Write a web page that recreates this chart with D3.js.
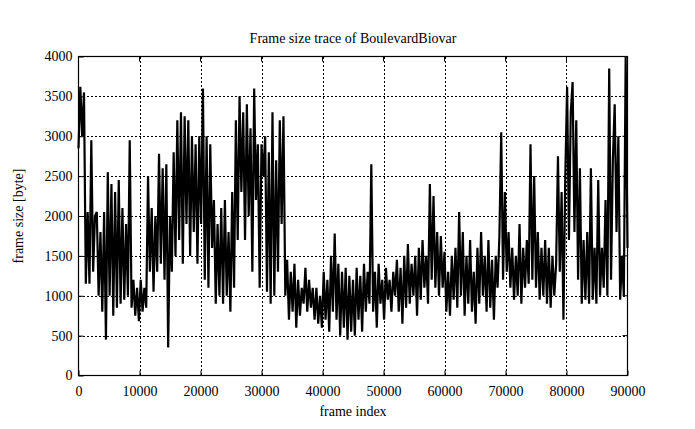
<!DOCTYPE html>
<html>
<head>
<meta charset="utf-8">
<script src="https://cdn.jsdelivr.net/npm/d3@7"></script>
<style>
  html, body { margin: 0; padding: 0; background: #fff; }
  svg { display: block; }
  text { font-family: "Liberation Serif", "Times New Roman", serif; fill: #000; }
</style>
</head>
<body>
<svg id="chart" width="695" height="429"></svg>
<script>
// ---- data ----
const frameStep = 300; // frame index spacing between samples
const frameSizes = [
  2850, 3620, 3000, 3550, 1150, 2050, 1150, 2950, 1300, 2000,
  2050, 1000, 1800, 800, 2050, 450, 2550, 1000, 2400, 750,
  2300, 850, 2450, 900, 2100, 950, 1900, 1000, 2950, 850,
  1200, 750, 1100, 680, 1200, 800, 1100, 850, 2500, 1300,
  2100, 1050, 2000, 1300, 2780, 1400, 2600, 1200, 2650, 350,
  2000, 1300, 2800, 1500, 3200, 1700, 3300, 1400, 3250, 1900,
  3200, 1500, 3000, 1800, 2900, 1400, 3000, 1900, 3600, 1200,
  3000, 1100, 2900, 1600, 2200, 900, 1900, 1000, 2100, 900,
  2200, 1000, 1800, 800, 2300, 1100, 3200, 1700, 3500, 2300,
  3300, 1700, 3400, 2000, 3100, 1300, 3600, 2200, 2900, 1100,
  2900, 2500, 3000, 1050, 2800, 900, 3300, 1000, 2700, 1300,
  3200, 1900, 3250, 1000, 1450, 700, 1300, 800, 1400, 600,
  1200, 750, 1100, 900, 1350, 800, 1200, 850, 1100, 700,
  1100, 650, 1000, 600, 1300, 700, 1200, 550, 1500, 800,
  1780, 700, 1400, 500, 1300, 600, 1350, 450, 1250, 550,
  1200, 500, 1350, 700, 1250, 550, 1400, 800, 1300, 900,
  2650, 800, 1300, 600, 1400, 900, 1200, 700, 1350, 950,
  1200, 800, 1300, 1000, 1450, 800, 1350, 650, 1500, 850,
  1650, 900, 1400, 1000, 1500, 750, 1600, 950, 1700, 1100,
  1500, 900, 2400, 1200, 2250, 1100, 1800, 1000, 1750, 1100,
  1550, 800, 1300, 750, 1500, 950, 1600, 850, 2050, 1000,
  1800, 750, 1500, 900, 1700, 800, 1300, 650, 1600, 900,
  1800, 1000, 1500, 800, 1700, 850, 1450, 700, 1500, 1100,
  1750, 3050, 1200, 2300, 1300, 1800, 1100, 1600, 950, 1500,
  1000, 1900, 900, 1600, 1100, 1700, 1150, 2900, 1200, 2500,
  1100, 1800, 950, 1600, 1000, 1700, 900, 1600, 850, 1500,
  1000, 1400, 2750, 1300, 2300, 700, 2500, 3620, 1700, 3300,
  3680, 1800, 3200, 1200, 2600, 900, 1700, 950, 1800, 900,
  2600, 950, 1600, 900, 2450, 1000, 1600, 1100, 2200, 1000,
  3850, 1200, 2700, 3400, 1800, 3000, 950, 1500, 1000, 4000,
  1600
];
const xTicks = [0, 10000, 20000, 30000, 40000, 50000, 60000, 70000, 80000, 90000];
const yTicks = [0, 500, 1000, 1500, 2000, 2500, 3000, 3500, 4000];
const titleText = "Frame size trace of BoulevardBiovar";
const xLabel = "frame index";
const yLabel = "frame size [byte]";

// ---- layout ----
const svg = d3.select("#chart");
const pLeft = 78.5, pRight = 627.5, pTop = 56.5, pBottom = 375.5;

const x = d3.scaleLinear().domain([0, 90000]).range([pLeft, pRight]);
const y = d3.scaleLinear().domain([0, 4000]).range([pBottom, pTop]);

const data = frameSizes.map((v, i) => ({ f: i * frameStep, v }));

// grid
const grid = svg.append("g").attr("stroke", "#000").attr("stroke-width", 1)
  .attr("stroke-dasharray", "2,2").attr("shape-rendering", "crispEdges");
grid.selectAll("line.gx").data(xTicks.slice(1, -1)).join("line")
  .attr("x1", d => Math.round(x(d)) + 0.5).attr("x2", d => Math.round(x(d)) + 0.5)
  .attr("y1", pTop).attr("y2", pBottom);
grid.selectAll("line.gy").data(yTicks.slice(1, -1)).join("line")
  .attr("x1", pLeft).attr("x2", pRight)
  .attr("y1", d => Math.round(y(d)) + 0.5).attr("y2", d => Math.round(y(d)) + 0.5);

// trace
const line = d3.line().x(d => x(d.f)).y(d => y(d.v));
svg.append("path").datum(data)
  .attr("fill", "none").attr("stroke", "#000").attr("stroke-width", 2.2)
  .attr("stroke-linejoin", "miter").attr("stroke-miterlimit", 2)
  .attr("d", line);

// axes (labels only; frame drawn as a rect)
const xAxis = svg.append("g").attr("transform", `translate(0,${pBottom})`)
  .call(d3.axisBottom(x).tickValues(xTicks).tickSize(5).tickPadding(10).tickFormat(d3.format("d")));
xAxis.select(".domain").remove();
xAxis.selectAll(".tick line").attr("y2", -5);
xAxis.selectAll("text").attr("font-size", 14).attr("font-family", "Liberation Serif, serif").attr("dy", "0.71em").attr("y", 11);

const yAxis = svg.append("g").attr("transform", `translate(${pLeft},0)`)
  .call(d3.axisLeft(y).tickValues(yTicks).tickSize(5).tickPadding(7).tickFormat(d3.format("d")));
yAxis.select(".domain").remove();
yAxis.selectAll(".tick line").attr("x2", 5);
yAxis.selectAll("text").attr("font-size", 14).attr("font-family", "Liberation Serif, serif").attr("x", -6);

// right / top mirror ticks
svg.append("g").selectAll("line").data(yTicks).join("line")
  .attr("x1", pRight - 5).attr("x2", pRight)
  .attr("y1", d => y(d)).attr("y2", d => y(d)).attr("stroke", "#000");
svg.append("g").selectAll("line").data(xTicks).join("line")
  .attr("x1", d => x(d)).attr("x2", d => x(d))
  .attr("y1", pTop).attr("y2", pTop + 5).attr("stroke", "#000");

// frame
svg.append("rect").attr("x", pLeft).attr("y", pTop).attr("width", pRight - pLeft).attr("height", pBottom - pTop)
  .attr("fill", "none").attr("stroke", "#000").attr("stroke-width", 1.2);

// titles
svg.append("text").attr("x", (pLeft + pRight) / 2).attr("y", 43).attr("text-anchor", "middle")
  .attr("font-size", 14).text(titleText);
svg.append("text").attr("x", (pLeft + pRight) / 2).attr("y", 416).attr("text-anchor", "middle")
  .attr("font-size", 14).text(xLabel);
svg.append("text").attr("transform", `translate(23,${(pTop + pBottom) / 2}) rotate(-90)`)
  .attr("text-anchor", "middle").attr("font-size", 14).text(yLabel);
</script>
</body>
</html>
